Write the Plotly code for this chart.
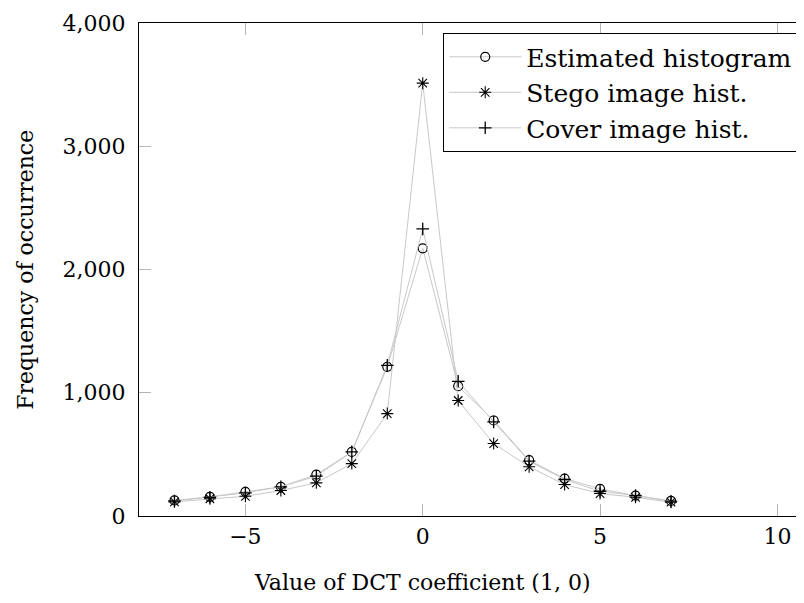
import plotly.graph_objects as go

x_vals = [-7, -6, -5, -4, -3, -2, -1, 0, 1, 2, 3, 4, 5, 6, 7]
estimated = [126, 155, 196, 237, 336, 520, 1210, 2172, 1053, 775, 453, 304, 220, 166, 122]
stego = [115, 140, 160, 207, 269, 425, 831, 3512, 937, 588, 399, 255, 182, 152, 112]
cover = [122, 152, 188, 237, 323, 520, 1222, 2329, 1093, 764, 445, 296, 201, 166, 120]

series_names = ["Estimated histogram", "Stego image hist.", "Cover image hist."]
x_ticks = [-5, 0, 5, 10]
y_ticks = [0, 1000, 2000, 3000, 4000]

FONT = "DejaVu Serif"
LINE_COLOR = "#c8c8c8"

fig = go.Figure()
fig.add_trace(go.Scatter(
    x=x_vals, y=estimated, name=series_names[0], mode="lines+markers",
    line=dict(color=LINE_COLOR, width=1),
    marker=dict(symbol="circle-open", size=9, color="black", line=dict(color="black", width=1.2)),
))
fig.add_trace(go.Scatter(
    x=x_vals, y=stego, name=series_names[1], mode="lines+markers",
    line=dict(color=LINE_COLOR, width=1),
    marker=dict(symbol="asterisk-open", size=10, color="black", line=dict(color="black", width=1.1)),
))
fig.add_trace(go.Scatter(
    x=x_vals, y=cover, name=series_names[2], mode="lines+markers",
    line=dict(color=LINE_COLOR, width=1),
    marker=dict(symbol="cross-thin-open", size=9, color="black", line=dict(color="black", width=1.3)),
))

fig.update_layout(
    width=796, height=595,
    margin=dict(l=131, r=0, t=15, b=87),
    paper_bgcolor="white", plot_bgcolor="white",
    font=dict(family=FONT, size=22, color="black"),
    showlegend=True,
    legend=dict(
        x=0.991, xanchor="right", y=0.98, yanchor="top",
        bordercolor="black", borderwidth=1.2, bgcolor="white",
        font=dict(family=FONT, size=25, color="black"),
        tracegroupgap=0, itemwidth=72,
    ),
    annotations=[
        dict(text="Value of DCT coefficient (1, 0)", xref="paper", yref="paper",
             x=0.427, y=-0.135, xanchor="center", yanchor="middle", showarrow=False,
             font=dict(family=FONT, size=22, color="black")),
        dict(text="Frequency of occurrence", xref="paper", yref="paper",
             x=-0.171, y=0.5, xanchor="center", yanchor="middle", showarrow=False,
             textangle=-90, font=dict(family=FONT, size=22, color="black")),
    ],
)

fig.update_xaxes(
    range=[-8, 10.75], tickvals=x_ticks, showgrid=False, zeroline=False,
    showline=True, linecolor="black", linewidth=1.3, mirror="ticks",
    ticks="inside", ticklen=12, tickcolor="#b4b4b4", tickwidth=1,
    tickfont=dict(family=FONT, size=22), ticklabeloverflow="allow",
)
fig.update_yaxes(
    range=[0, 4000], tickvals=y_ticks, tickformat=",d", showgrid=False, zeroline=False,
    showline=True, linecolor="black", linewidth=1.3, mirror=False,
    ticks="inside", ticklen=12, tickcolor="#b4b4b4", tickwidth=1,
    tickfont=dict(family=FONT, size=22), ticklabelstandoff=8, ticklabeloverflow="allow",
)

fig.write_html("out.html")
